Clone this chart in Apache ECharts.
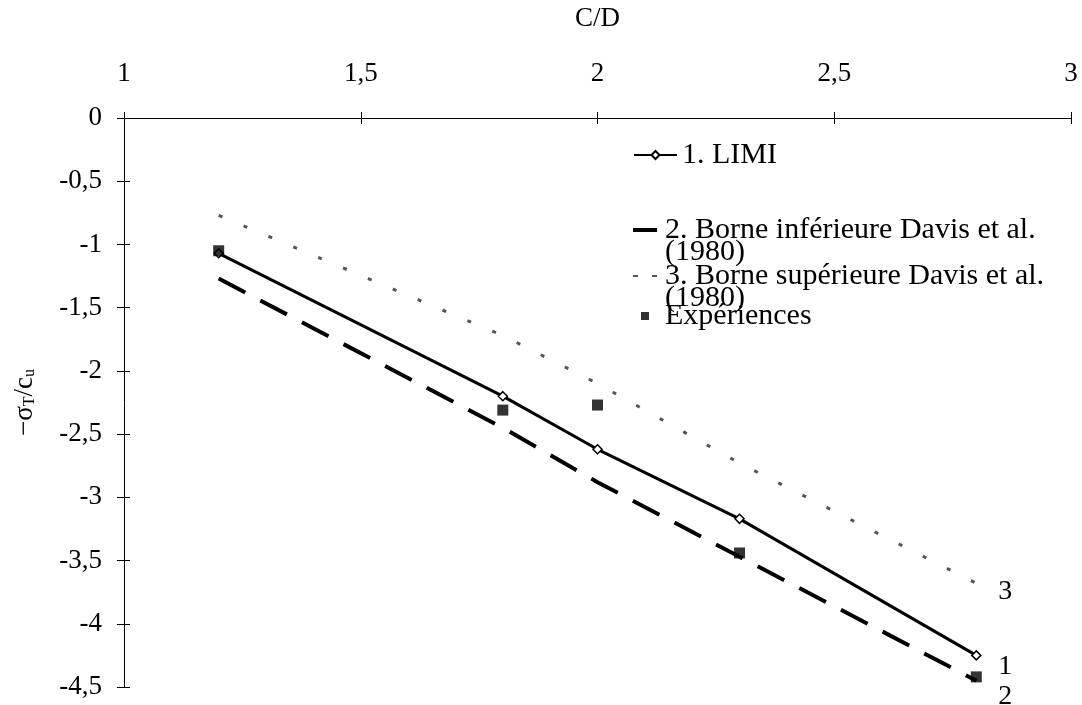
<!DOCTYPE html>
<html>
<head>
<meta charset="utf-8">
<script src="https://cdn.jsdelivr.net/npm/echarts@6/dist/echarts.min.js"></script>
<style>
html,body{margin:0;padding:0;background:#fff}
#main{width:1082px;height:705px}
</style>
</head>
<body>
<div id="main"></div>
<script>
// C/D et -sigma_T/c_u
var cd = [1.2, 1.8, 2, 2.3, 2.8];
var limi = [-1.07, -2.2, -2.62, -3.17, -4.25];
var borneInf = [-1.27, -2.45, -2.88, -3.47, -4.45];
var borneSup = [-0.77, -1.72, -2.1, -2.73, -3.68];
var experiences = [-1.05, -2.31, -2.27, -3.44, -4.42];
var xTicks = [1, 1.5, 2, 2.5, 3];

var noms = ['1. LIMI', '2. Borne inférieure Davis et al.\n(1980)', '3. Borne supérieure Davis et al.\n(1980)', 'Expériences'];

function paires(ys){
    var out = [];
    for (var i = 0; i < cd.length; i++) out.push([cd[i], ys[i]]);
    return out;
}
function virgule(v){ return String(v).replace('.', ','); }

var police = 'Liberation Serif';
var legendeTexte = {fontFamily: police, fontSize: 30, color: '#000', lineHeight: 22};

// icones de legende, calees sur la premiere ligne du texte (boite 27x44)
var iconeTiret = 'path://M0,0 M27,44 M0,9h24v4h-24z';
var iconePoints = 'path://M0,0 M27,44 M0,10h5v2h-5z M19,10h5v2h-5z';
var iconeCarre = 'path://M0,0 M27,22 M8,7h8v8h-8z';

var myChart = echarts.init(document.getElementById('main'));
myChart.setOption({
    animation: false,
    textStyle: {fontFamily: police, color: '#000'},
    grid: {left: 124, right: 11, top: 111, bottom: 18},
    legend: [
        {
            orient: 'vertical', left: 628, top: 135,
            itemWidth: 43, itemHeight: 10, itemGap: 0,
            textStyle: legendeTexte,
            data: [noms[0]]
        },
        {
            orient: 'vertical', left: 628, top: 210,
            itemWidth: 27, itemHeight: 44, itemGap: -6,
            textStyle: legendeTexte,
            data: [
                {name: noms[1], icon: iconeTiret},
                {name: noms[2], icon: iconePoints}
            ]
        },
        {
            orient: 'vertical', left: 628, top: 296,
            itemWidth: 27, itemHeight: 22, itemGap: 0,
            textStyle: legendeTexte,
            data: [{name: noms[3], icon: iconeCarre}]
        }
    ],
    xAxis: [
        {
            type: 'value',
            position: 'top',
            min: 1, max: 3, interval: 0.5,
            name: 'C/D',
            nameLocation: 'middle',
            nameGap: 86,
            nameTextStyle: {fontFamily: police, fontSize: 27, color: '#000'},
            axisLine: {onZero: false, lineStyle: {color: '#000', width: 1}},
            axisTick: {show: true, length: 6, lineStyle: {color: '#000'}},
            axisLabel: {fontFamily: police, fontSize: 27, color: '#000', margin: 31,
                formatter: function(v){ return xTicks.indexOf(v) >= 0 ? virgule(v) : ''; }},
            splitLine: {show: false}
        },
        {
            // traits de graduation cote interieur
            type: 'value',
            position: 'top',
            min: 1, max: 3, interval: 0.5,
            axisLine: {show: false},
            axisTick: {show: true, inside: true, length: 6, lineStyle: {color: '#000'}},
            axisLabel: {show: false},
            splitLine: {show: false}
        }
    ],
    yAxis: [
        {
            type: 'value',
            min: -4.5, max: 0, interval: 0.5,
            name: '{a|−σ}{s|T}{a|/c}{s|u}',
            nameLocation: 'middle',
            nameRotate: 90,
            nameGap: 86,
            nameTextStyle: {
                rich: {
                    a: {fontFamily: police, fontSize: 27, color: '#000'},
                    s: {fontFamily: police, fontSize: 16, color: '#000', verticalAlign: 'bottom', padding: [10, 0, 0, 0]}
                }
            },
            axisLine: {onZero: false, lineStyle: {color: '#000', width: 1}},
            axisTick: {show: true, length: 7, lineStyle: {color: '#000'}},
            axisLabel: {fontFamily: police, fontSize: 27, color: '#000', margin: 22, formatter: virgule},
            splitLine: {show: false}
        },
        {
            type: 'value',
            position: 'left',
            min: -4.5, max: 0, interval: 0.5,
            axisLine: {show: false},
            axisTick: {show: true, inside: true, length: 6, lineStyle: {color: '#000'}},
            axisLabel: {show: false},
            splitLine: {show: false}
        }
    ],
    series: [
        {
            name: noms[0],
            type: 'line',
            data: paires(limi),
            symbol: 'diamond',
            symbolSize: 9,
            itemStyle: {color: '#fff', borderColor: '#000', borderWidth: 1.5},
            lineStyle: {color: '#000', width: 3},
            endLabel: {show: true, formatter: '1', fontFamily: police, fontSize: 28, color: '#000', offset: [14, 11]}
        },
        {
            name: noms[1],
            type: 'line',
            data: paires(borneInf),
            symbol: 'none',
            itemStyle: {color: '#000'},
            lineStyle: {color: '#000', width: 4, type: [30, 17]},
            endLabel: {show: true, formatter: '2', fontFamily: police, fontSize: 28, color: '#000', offset: [14, 16]}
        },
        {
            name: noms[2],
            type: 'line',
            data: paires(borneSup),
            symbol: 'none',
            itemStyle: {color: '#555'},
            lineStyle: {color: '#555', width: 3, type: [4, 23]},
            endLabel: {show: true, formatter: '3', fontFamily: police, fontSize: 28, color: '#000', offset: [14, 8]}
        },
        {
            name: noms[3],
            type: 'scatter',
            data: paires(experiences),
            symbol: 'rect',
            symbolSize: 11,
            itemStyle: {color: '#000'},
            z: 3
        }
    ]
});
</script>
</body>
</html>
